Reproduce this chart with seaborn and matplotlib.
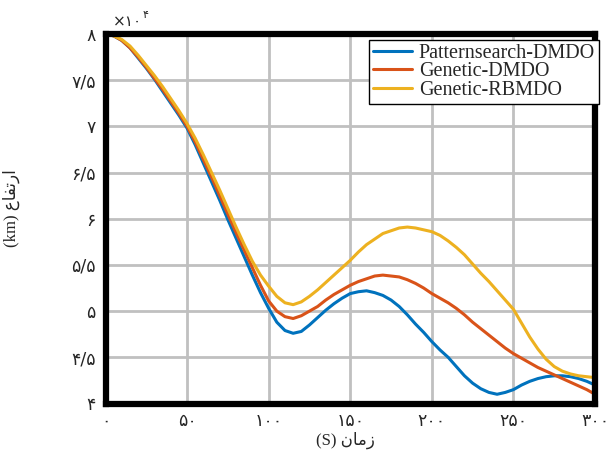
import matplotlib
matplotlib.use("Agg")
import matplotlib.pyplot as plt
import seaborn as sns
import pandas as pd

# ---- data (altitude in units of 1e4 km vs time in s) ----
time_s = [0, 5, 10, 15, 20, 25, 30, 35, 40, 45, 50, 55, 60, 65, 70, 75, 80, 85, 90, 95,
          100, 105, 110, 115, 120, 125, 130, 135, 140, 145, 150, 155, 160, 165, 170, 175,
          180, 185, 190, 195, 200, 205, 210, 215, 220, 225, 230, 235, 240, 245, 250, 255,
          260, 265, 270, 275, 280, 285, 290, 295, 300]
patternsearch_dmdo = [8.00, 7.98, 7.93, 7.85, 7.74, 7.63, 7.51, 7.38, 7.25, 7.12, 6.98,
                      6.80, 6.60, 6.40, 6.20, 5.99, 5.79, 5.59, 5.39, 5.20, 5.03, 4.88,
                      4.79, 4.76, 4.78, 4.85, 4.93, 5.01, 5.08, 5.14, 5.19, 5.21, 5.22,
                      5.20, 5.17, 5.12, 5.05, 4.96, 4.86, 4.77, 4.67, 4.58, 4.50, 4.40,
                      4.30, 4.22, 4.16, 4.12, 4.10, 4.12, 4.15, 4.20, 4.24, 4.27, 4.29,
                      4.30, 4.30, 4.29, 4.27, 4.24, 4.20]
genetic_dmdo = [8.00, 7.98, 7.93, 7.85, 7.75, 7.64, 7.52, 7.40, 7.27, 7.14, 7.00,
                6.83, 6.64, 6.45, 6.25, 6.05, 5.85, 5.66, 5.47, 5.28, 5.11, 5.00,
                4.94, 4.92, 4.95, 5.00, 5.05, 5.12, 5.18, 5.23, 5.28, 5.32, 5.35,
                5.38, 5.39, 5.38, 5.37, 5.34, 5.30, 5.25, 5.19, 5.14, 5.09, 5.03,
                4.96, 4.88, 4.81, 4.74, 4.67, 4.60, 4.54, 4.49, 4.44, 4.39, 4.35,
                4.31, 4.27, 4.23, 4.19, 4.15, 4.10]
genetic_rbmdo = [8.00, 7.98, 7.94, 7.87, 7.77, 7.66, 7.55, 7.43, 7.30, 7.17, 7.03,
                 6.87, 6.69, 6.50, 6.31, 6.11, 5.91, 5.72, 5.54, 5.39, 5.27, 5.16,
                 5.09, 5.07, 5.10, 5.16, 5.23, 5.31, 5.39, 5.47, 5.55, 5.64, 5.72,
                 5.78, 5.84, 5.87, 5.90, 5.91, 5.90, 5.88, 5.86, 5.82, 5.76, 5.69,
                 5.61, 5.51, 5.41, 5.32, 5.22, 5.12, 5.02, 4.87, 4.72, 4.59, 4.48,
                 4.40, 4.35, 4.32, 4.30, 4.29, 4.28]
series_names = ["Patternsearch-DMDO", "Genetic-DMDO", "Genetic-RBMDO"]
series_colors = ["#0072BD", "#D95319", "#EDB120"]

x_ticks = [0, 50, 100, 150, 200, 250, 300]
x_ticklabels = ["۰", "۵۰", "۱۰۰", "۱۵۰", "۲۰۰", "۲۵۰", "۳۰۰"]
y_ticks = [4, 4.5, 5, 5.5, 6, 6.5, 7, 7.5, 8]
y_ticklabels = ["۴", "۴/۵", "۵", "۵/۵", "۶", "۶/۵", "۷", "۷/۵", "۸"]

# Persian labels in presentation forms (visual order) so they render joined
x_label = "(S) \uFEE5\uFE8E\uFEE3\uFEAF"          # زمان (S)
y_label = "(km) \uFEC9\uFE8E\uFED4\uFE97\uFEAD\uFE8D"  # ارتفاع (km)

frames = []
for name, vals in zip(series_names, [patternsearch_dmdo, genetic_dmdo, genetic_rbmdo]):
    frames.append(pd.DataFrame({"time": time_s, "alt": vals, "series": name}))
df = pd.concat(frames, ignore_index=True)

sns.set_style("white")
plt.rcParams["font.family"] = ["DejaVu Sans"]

fig = plt.figure(figsize=(6.08, 4.57), dpi=100)
ax = fig.add_axes([105.5 / 608, 1 - 403.5 / 457, (595 - 105.5) / 608, (403.5 - 34) / 457])

sns.lineplot(data=df, x="time", y="alt", hue="series", hue_order=series_names,
             palette=series_colors, linewidth=2.2, ax=ax, sort=False)

ax.set_xlim(0, 300)
ax.set_ylim(4, 8)
ax.set_xticks(x_ticks)
ax.set_xticklabels(x_ticklabels, fontsize=12.5, family=["DejaVu Sans"])
ax.set_yticks(y_ticks)
ax.set_yticklabels(y_ticklabels, fontsize=12.5, family=["DejaVu Sans"])
ax.tick_params(axis="both", length=0)
ax.tick_params(axis="x", pad=6)
ax.tick_params(axis="y", pad=7)

ax.grid(True, color="#c0c0c0", linewidth=2.0)
ax.set_axisbelow(True)
for sp in ax.spines.values():
    sp.set_visible(True)
    sp.set_color("black")
    sp.set_linewidth(4.5)

ax.set_xlabel(x_label, fontsize=12, family=["Liberation Serif", "DejaVu Sans"])
ax.set_ylabel(y_label, fontsize=12, family=["Liberation Serif", "DejaVu Sans"])
ax.xaxis.set_label_coords(0.49, -0.075)
ax.yaxis.set_label_coords(-0.175, 0.53)

old = ax.get_legend()
handles = old.legend_handles
labels = [t.get_text() for t in old.get_texts()]
old.remove()
leg = ax.legend(handles, labels, loc="upper right", bbox_to_anchor=(1.008, 0.985),
                prop={"family": "Liberation Serif", "size": 14.5}, frameon=True,
                fancybox=False, framealpha=1, edgecolor="black", borderpad=0.2,
                labelspacing=-0.02, handlelength=1.9, handletextpad=0.35, borderaxespad=0)
leg.get_frame().set_linewidth(1.0)
for h in leg.legend_handles:
    h.set_linewidth(2.2)

fig.text(113 / 608, 1 - 22 / 457, "×۱۰", fontsize=11, ha="left", va="center",
         family=["DejaVu Sans"])
fig.text(143 / 608, 1 - 15 / 457, "۴", fontsize=8, ha="left", va="center",
         family=["DejaVu Sans"])

fig.savefig("out.png", dpi=100)
